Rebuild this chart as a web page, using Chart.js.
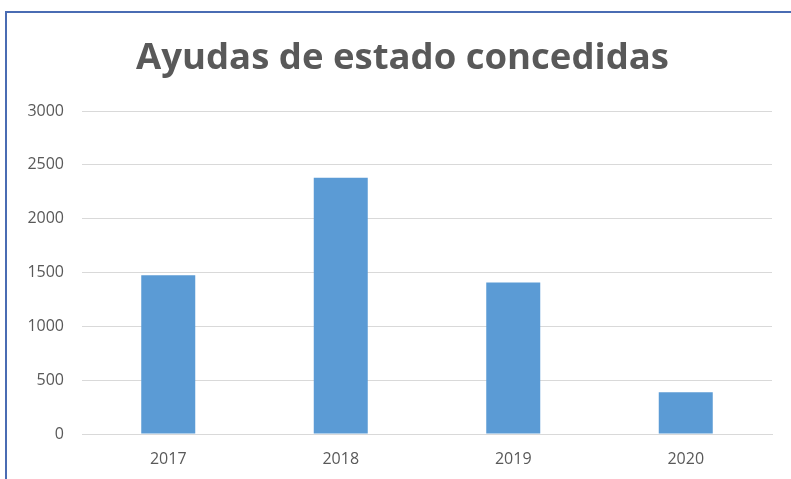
<!DOCTYPE html>
<html>
<head>
<meta charset="utf-8">
<script src="https://cdn.jsdelivr.net/npm/chart.js@4"></script>
<style>
  html, body { margin: 0; padding: 0; background: #ffffff; overflow: hidden; }
  #wrap { position: relative; width: 791px; height: 479px; }
  #frame { position: absolute; left: 5px; top: 11px; width: 900px; height: 600px;
           border-top: 2px solid #4a6cb3; border-left: 2px solid #4a6cb3; pointer-events: none; }
  canvas { position: absolute; left: 0; top: 0; }
</style>
</head>
<body>
<div id="wrap">
  <canvas id="c" width="791" height="479"></canvas>
  <div id="frame"></div>
</div>
<script>
const chartTitle = "Ayudas de estado concedidas";
const categories = ["2017", "2018", "2019", "2020"];
const values = [1475, 2380, 1408, 388];
const yTicks = [0, 500, 1000, 1500, 2000, 2500, 3000];

const titlePlugin = {
  id: 'offsetTitle',
  afterDraw(chart, args, opts) {
    const ctx = chart.ctx;
    ctx.save();
    ctx.font = opts.font;
    ctx.fillStyle = opts.color;
    ctx.textAlign = 'center';
    ctx.textBaseline = 'alphabetic';
    ctx.fillText(opts.text, opts.x, opts.y);
    ctx.restore();
  }
};

new Chart(document.getElementById('c'), {
  type: 'bar',
  data: {
    labels: categories,
    datasets: [{
      data: values,
      backgroundColor: '#5b9bd5',
      borderWidth: 0,
      categoryPercentage: 1,
      barPercentage: 0.313
    }]
  },
  plugins: [titlePlugin],
  options: {
    responsive: false,
    animation: false,
    devicePixelRatio: 1,
    layout: { padding: { left: 0, right: 19, top: 111, bottom: 0 } },
    plugins: {
      legend: { display: false },
      tooltip: { enabled: false },
      title: { display: false },
      offsetTitle: {
        text: chartTitle,
        color: '#595959',
        font: 'bold 36.5px "Open Sans"',
        x: 402.5,
        y: 69
      }
    },
    scales: {
      x: {
        grid: { display: false, drawTicks: false },
        border: { display: true, color: '#d9d9d9', width: 1 },
        ticks: { color: '#595959', font: { family: 'Open Sans', size: 16 }, padding: 16 },
        afterFit: (s) => { s.height = 45; }
      },
      y: {
        min: yTicks[0],
        max: yTicks[yTicks.length - 1],
        afterBuildTicks: (s) => { s.ticks = yTicks.map(v => ({ value: v })); },
        grid: { color: '#d9d9d9', lineWidth: 1, drawTicks: false },
        border: { display: false },
        ticks: { color: '#595959', font: { family: 'Open Sans', size: 16 }, padding: 18,
                 callback: (v) => String(v) },
        afterFit: (s) => { s.width = 82; }
      }
    }
  }
});
</script>
</body>
</html>
